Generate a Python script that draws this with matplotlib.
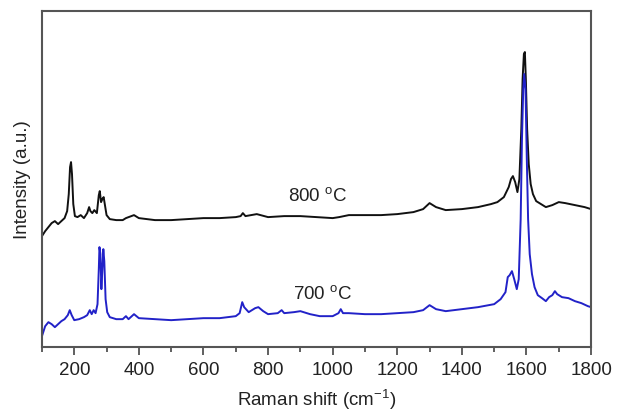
import matplotlib
matplotlib.use("Agg")
import matplotlib.pyplot as plt
from matplotlib.ticker import MultipleLocator

plt.rcParams['font.family'] = ['Liberation Sans', 'DejaVu Sans']
plt.rcParams['mathtext.fontset'] = 'custom'
plt.rcParams['mathtext.rm'] = 'Liberation Sans'

x_800 = [100, 110, 120, 130, 140, 150, 160, 170, 178, 183, 187, 190, 193, 197, 202, 210, 220, 230, 240, 246,
         250, 256, 262, 270, 276, 279, 283, 287, 291, 295, 300, 310, 330, 350, 360, 385, 400, 450, 500, 550,
         600, 650, 700, 715, 722, 730, 765, 800, 850, 900, 950, 1000, 1020, 1050, 1100, 1150, 1200, 1250, 1280, 1300,
         1320, 1350, 1400, 1450, 1490, 1510, 1530, 1545, 1552, 1558, 1565, 1572, 1578, 1584, 1588, 1592, 1595, 1598, 1602, 1607,
         1613, 1620, 1630, 1645, 1660, 1680, 1700, 1720, 1750, 1780, 1800]
y_800 = [111, 116, 120, 124, 126, 123, 126, 129, 136, 153, 180, 185, 173, 143, 131, 130, 132, 129, 134, 140,
         136, 134, 137, 134, 152, 156, 145, 148, 150, 142, 132, 128, 127, 127, 129, 132, 129, 127, 127, 128,
         129, 129, 130, 131, 134, 131, 133, 130, 131, 131, 130, 129, 130, 132, 132, 132, 133, 135, 138, 144,
         140, 137, 138, 140, 143, 145, 150, 160, 168, 171, 165, 155, 168, 218, 268, 293, 295, 268, 218, 183,
         163, 153, 146, 143, 140, 142, 145, 144, 142, 140, 138]

x_700 = [100, 110, 120, 130, 140, 150, 160, 170, 180, 186, 192, 200, 215, 230, 240, 248, 254, 260, 266, 272,
         276, 278, 281, 284, 287, 290, 293, 297, 302, 310, 330, 350, 360, 368, 385, 400, 450, 500, 550, 600,
         650, 700, 712, 720, 726, 740, 760, 770, 785, 800, 830, 842, 850, 880, 900, 930, 960, 1000, 1018, 1025,
         1032, 1050, 1100, 1150, 1200, 1250, 1280, 1300, 1320, 1350, 1400, 1450, 1500, 1520, 1535, 1542, 1548, 1555, 1562, 1570,
         1576, 1582, 1586, 1590, 1593, 1597, 1601, 1605, 1610, 1617, 1625, 1635, 1648, 1660, 1670, 1680, 1688, 1695, 1710, 1730,
         1750, 1770, 1790, 1800]
y_700 = [11, 21, 25, 23, 20, 23, 26, 28, 32, 37, 32, 27, 28, 30, 32, 37, 33, 37, 34, 43,
         78, 100, 93, 58, 78, 98, 86, 48, 35, 30, 28, 28, 31, 28, 33, 29, 28, 27, 28, 29,
         29, 31, 34, 45, 40, 35, 39, 40, 36, 33, 34, 37, 34, 35, 36, 33, 31, 31, 34, 38,
         34, 34, 33, 33, 34, 35, 37, 42, 38, 36, 38, 40, 43, 48, 55, 70, 72, 76, 68, 58,
         68, 128, 208, 258, 273, 258, 188, 128, 93, 73, 60, 52, 49, 46, 50, 52, 56, 53, 50, 49,
         46, 44, 41, 40]

labels = ["800 $^{\\mathregular{o}}$C", "700 $^{\\mathregular{o}}$C"]
label_pos = [(955, 151), (970, 53)]

fig = plt.figure(figsize=(6.17, 4.14), dpi=100)
ax = fig.add_axes([0.068, 0.159, 0.890, 0.812])

ax.plot(x_800, y_800, color='#111111', lw=1.4)
ax.plot(x_700, y_700, color='#2222c8', lw=1.4)

for t, (px, py) in zip(labels, label_pos):
    ax.text(px, py, t, ha='center', va='center', fontsize=13.5, color='#222222')

ax.set_xlim(100, 1800)
ax.set_ylim(0, 336)
ax.xaxis.set_major_locator(MultipleLocator(200))
ax.xaxis.set_minor_locator(MultipleLocator(100))
ax.set_xticks(range(200, 1801, 200))
ax.tick_params(axis='x', which='major', direction='out', length=6, width=1.2, labelsize=13.5,
               colors='#444444', labelcolor='#222222', pad=4)
ax.tick_params(axis='x', which='minor', direction='out', length=3.5, width=1.2, colors='#444444')
ax.set_yticks([])
for s in ax.spines.values():
    s.set_color('#555555')
    s.set_linewidth(1.5)

ax.set_xlabel("Raman shift (cm$^{\\mathregular{-1}}$)", fontsize=13.5, color='#222222', labelpad=6)
ax.set_ylabel("Intensity (a.u.)", fontsize=13.5, color='#222222', labelpad=8)

fig.savefig("out.png", dpi=100)
